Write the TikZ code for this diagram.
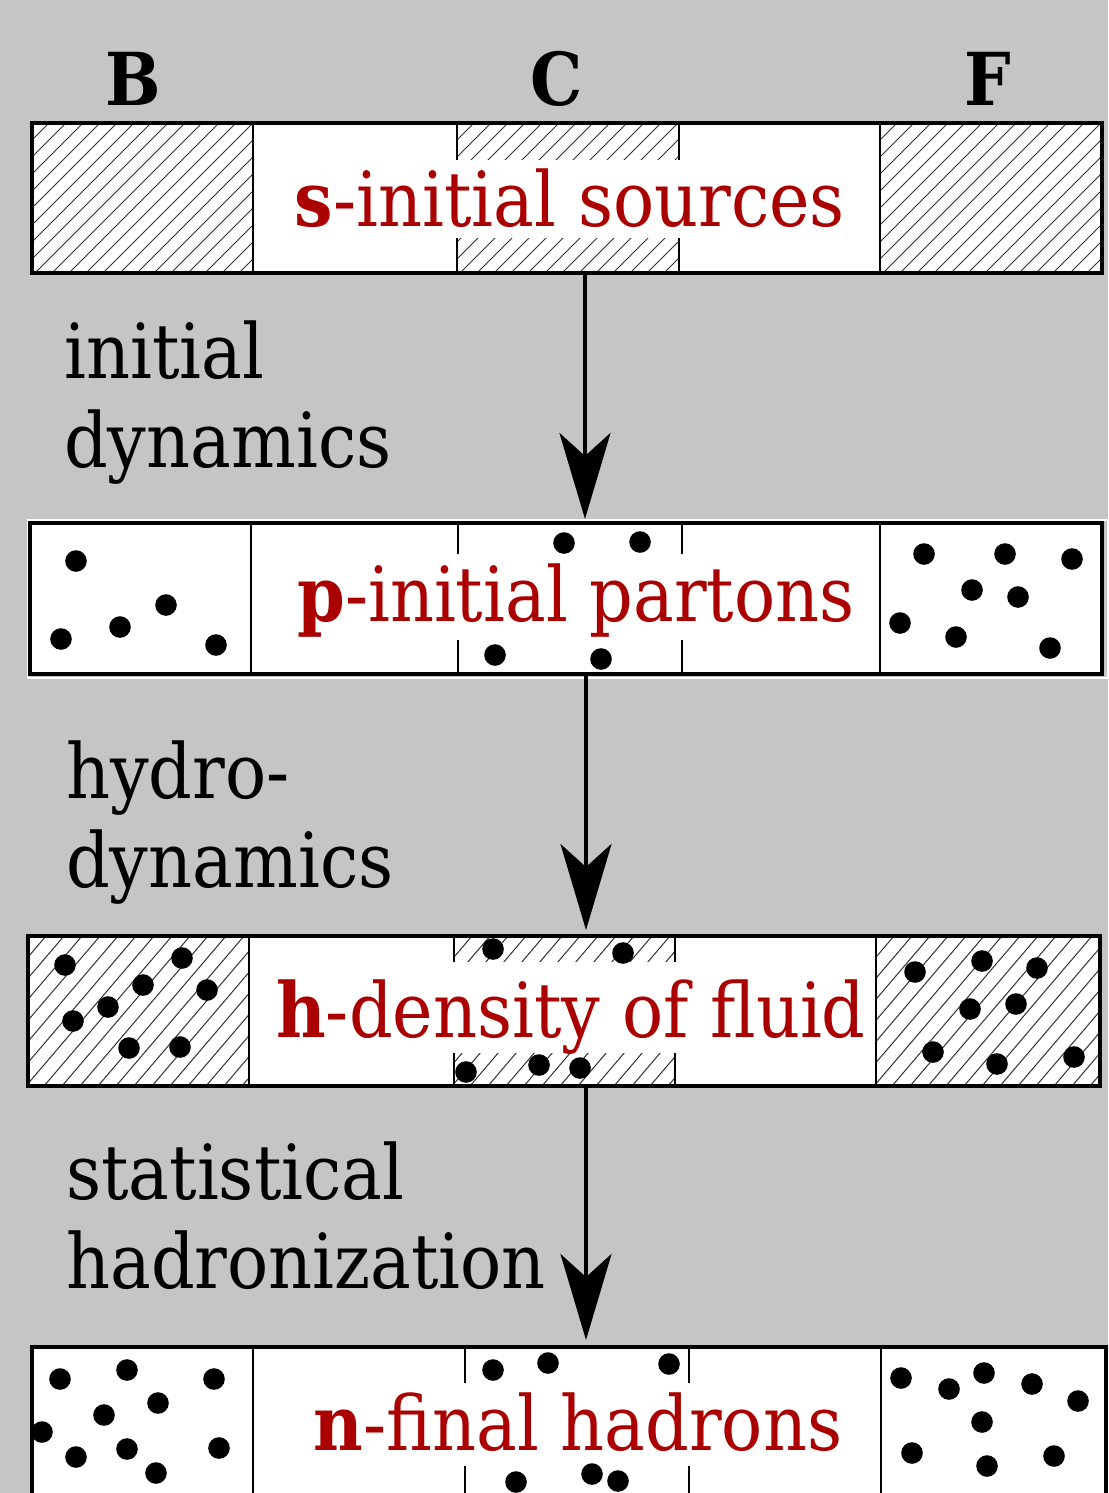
\documentclass[tikz,border=0pt]{standalone}
\usepackage{fontspec}
\setmainfont{DejaVu Serif}[FakeStretch=0.9]
\usetikzlibrary{arrows.meta}

\definecolor{panelgray}{RGB}{196,197,196}
\definecolor{stagered}{RGB}{170,0,0}
\definecolor{hatchgray}{RGB}{50,50,50}

% diagonal hatching of a rectangle: x1 y1 x2 y2 spacing run
\newcommand\hatchbox[6]{%
  \begin{scope}
    \clip (#1,#2) rectangle (#3,#4);
    \pgfmathsetmacro\hstart{#1-#6}
    \pgfmathsetmacro\hnext{#1-#6+#5}
    \foreach \u in {\hstart,\hnext,...,#3}
      \draw[hatchline] (\u,#4) -- ++(#6,{#2-#4});
  \end{scope}}

\tikzset{
  hatchline/.style={line width=1, draw=hatchgray},
  frame/.style={draw=black, line width=3.2, inner sep=0, outer sep=0},
  divider/.style={draw=black, line width=2.6},
  dot/.style={fill=black},
  flowarrow/.style={line width=4, -{Stealth[length=86pt, width=51pt, inset=23pt]}},
  stagetext/.style={anchor=base, text=stagered, fill=white, inner xsep=5, inner ysep=0,
    font=\fontsize{76}{89}\selectfont},
  sidetext/.style={anchor=base west, inner sep=0, font=\fontsize{76}{89}\selectfont},
  colhead/.style={anchor=base, inner sep=0, font=\fontsize{73}{80}\selectfont\bfseries},
}

\begin{document}
\begin{tikzpicture}[x=1pt, y=-1pt]
\useasboundingbox (0,0) rectangle (1108,1493);
\clip (0,0) rectangle (1108,1493);
\fill[panelgray] (0,0) rectangle (1108,1493);

% column headings
\node[colhead] (hB) at (133,106) {B};
\node[colhead] (hC) at (557,106) {C};
\node[colhead] (hF) at (988,106) {F};

% ---------------- row s: initial sources ----------------
\fill[white] (32,123) rectangle (1102,273);
\hatchbox{32}{123}{253}{273}{17}{150}
\hatchbox{457}{123}{679}{273}{17}{150}
\hatchbox{880}{123}{1102}{273}{17}{150}
\draw[divider] (457,123) -- (457,273);
\draw[divider] (679,123) -- (679,273);
\node[stagetext, text height=66, text depth=12] (txtS) at (570,226) {\textbf{s}-initial sources};
\draw[divider] (253,123) -- (253,273);
\draw[divider] (880,123) -- (880,273);
\node[frame, minimum width=1070, minimum height=150] (boxS) at (567,198) {};

% ---------------- row p: initial partons ----------------
\draw[white, line width=1.5] (28,520) rectangle (1108,678);
\fill[white] (30,523) rectangle (1102,674);
\draw[divider] (458,523) -- (458,674);
\draw[divider] (682,523) -- (682,674);
\node[stagetext, text height=67, text depth=19] (txtP) at (576,621) {\textbf{p}-initial partons};
\foreach \x/\y in {76/561, 166/605, 120/627, 61/639, 216/645,
                   564/543, 640/542, 495/655, 601/659,
                   924/554, 1005/554, 1072/559, 972/590, 1018/597,
                   900/623, 956/637, 1050/648}
  \fill[dot] (\x,\y) circle[radius=10.8];
\draw[divider] (251,523) -- (251,674);
\draw[divider] (880,523) -- (880,674);
\node[frame, minimum width=1072, minimum height=151] (boxP) at (566,598.5) {};

% ---------------- row h: density of fluid ----------------
\fill[white] (28,936) rectangle (1100,1086);
\hatchbox{28}{936}{249}{1086}{18}{128}
\hatchbox{454}{936}{675}{1086}{18}{128}
\hatchbox{876}{936}{1100}{1086}{18}{128}
\draw[divider] (454,936) -- (454,1086);
\draw[divider] (675,936) -- (675,1086);
\node[stagetext, text height=75, text depth=16] (txtH) at (571,1037) {\textbf{h}-density of fluid};
\foreach \x/\y in {65/965, 182/958, 143/985, 207/990, 108/1007, 73/1021, 129/1048, 180/1047,
                   493/949, 623/953, 466/1072, 539/1065, 580/1068,
                   915/972, 982/961, 1037/968, 970/1009, 1016/1004,
                   933/1052, 997/1064, 1074/1057}
  \fill[dot] (\x,\y) circle[radius=10.8];
\draw[divider] (249,936) -- (249,1086);
\draw[divider] (876,936) -- (876,1086);
\node[frame, minimum width=1072, minimum height=150] (boxH) at (564,1011) {};

% ---------------- row n: final hadrons ----------------
\fill[white] (32,1347) rectangle (1106,1520);
\draw[divider] (465,1347) -- (465,1520);
\draw[divider] (689,1347) -- (689,1520);
\node[stagetext, text height=67, text depth=16] (txtN) at (578,1450) {\textbf{n}-final hadrons};
\foreach \x/\y in {60/1379, 127/1370, 214/1379, 158/1403, 104/1415, 42/1432,
                   76/1457, 127/1449, 219/1448, 156/1473,
                   493/1370, 548/1363, 669/1364, 516/1482, 592/1474, 618/1481,
                   901/1378, 949/1389, 984/1373, 1032/1384, 1078/1401,
                   982/1422, 912/1453, 987/1466, 1054/1456}
  \fill[dot] (\x,\y) circle[radius=10.8];
\draw[divider] (253,1347) -- (253,1520);
\draw[divider] (881,1347) -- (881,1520);
\node[frame, minimum width=1074, minimum height=180] (boxN) at (569,1437) {};

% ---------------- transitions ----------------
\coordinate (colA) at (585,0);
\coordinate (colB) at (586,0);
\draw[flowarrow] (boxS.south -| colA) -- ([yshift=4pt]boxP.north -| colA);
\draw[flowarrow] (boxP.south -| colB) -- ([yshift=6pt]boxH.north -| colB);
\draw[flowarrow] (boxH.south -| colB) -- ([yshift=7pt]boxN.north -| colB);

\node[sidetext] (l1a) at (64,378) {initial};
\node[sidetext] (l1b) at (64,467) {dynamics};
\node[sidetext] (l2a) at (66,798) {hydro-};
\node[sidetext] (l2b) at (66,887) {dynamics};
\node[sidetext] (l3a) at (66,1199) {statistical};
\node[sidetext] (l3b) at (66,1288) {hadronization};
\end{tikzpicture}
\end{document}
